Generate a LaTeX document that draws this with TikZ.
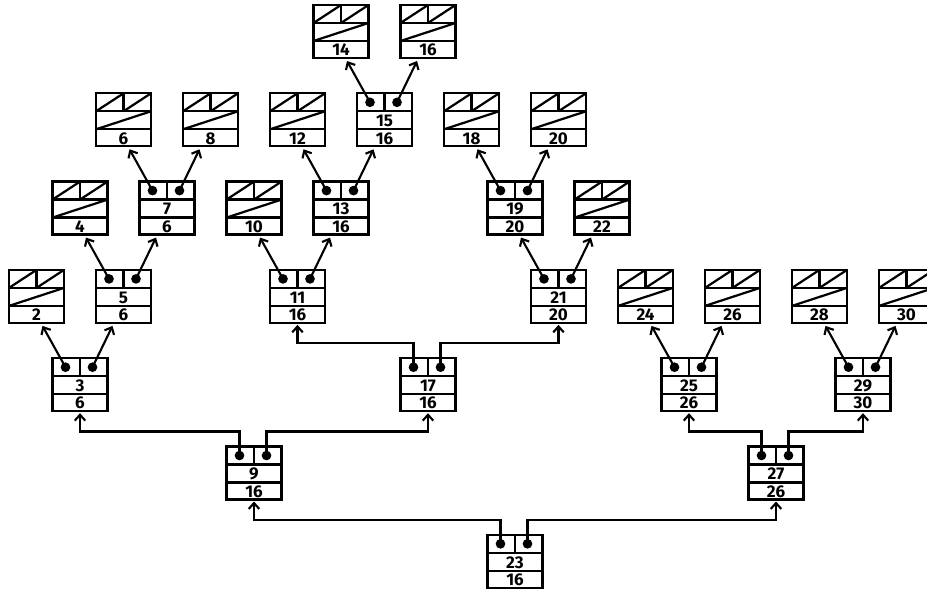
\documentclass[tikz,border=0pt]{standalone}
\usepackage{fontspec}
\newfontfamily\recfont{Fira Sans}
\usetikzlibrary{arrows.meta,calc}
\tikzset{
  every picture/.style={line width=1.9pt, x=0.3mm, y=-0.3mm},
  rec/.style={draw, rectangle, minimum width=16.5mm, minimum height=15.9mm, inner sep=0pt, outer sep=0pt, anchor=north west},
  num/.style={font=\recfont\bfseries\fontsize{14.5}{14.5}\selectfont, inner sep=0pt},
  link/.style={-{Straight Barb[length=5pt,width=9pt]}, line width=1.8pt},
}
% one record: three rows, the top row cut in two
\newcommand\recbox[3]{%
  \node[rec] (#1) at ({9+43.5*#2},{5+88.3*#3}) {};
  \draw ($(#1.north west)+(0,18)$) -- ($(#1.north east)+(0,18)$)
        ($(#1.north west)+(0,36)$) -- ($(#1.north east)+(0,36)$)
        (#1.north) -- ($(#1.north)+(0,18)$);}
% inner record: two pointers, a key and a value
\newcommand\midrec[5]{%
  \recbox{#1}{#2}{#3}
  \coordinate (#1l) at ($(#1.north west)+(13,9)$);
  \coordinate (#1r) at ($(#1.north east)+(-15,9)$);
  \fill (#1l) circle[radius=1.45mm] (#1r) circle[radius=1.45mm];
  \node[num] (#1id) at ($(#1.north)+(0,27.5)$) {#4};
  \node[num] (#1val) at ($(#1.north)+(0,45)$) {#5};}
% leaf record: empty fields struck through
\newcommand\leafrec[4]{%
  \recbox{#1}{#2}{#3}
  \draw ($(#1.north west)+(0,18)$) -- (#1.north)
        ($(#1.north)+(0,18)$) -- (#1.north east)
        ($(#1.north west)+(0,36)$) -- ($(#1.north east)+(0,18)$);
  \node[num] (#1val) at ($(#1.north)+(0,45)$) {#4};}

\begin{document}
\begin{tikzpicture}
  \useasboundingbox (0,0) rectangle (927,589);
  % records, row by row from the top
  \leafrec{n14}{7}{0}{14}
  \leafrec{n16}{9}{0}{16}
  \leafrec{n6}{2}{1}{6}
  \leafrec{n8}{4}{1}{8}
  \leafrec{n12}{6}{1}{12}
  \midrec{n15}{8}{1}{15}{16}
  \leafrec{n18}{10}{1}{18}
  \leafrec{n20}{12}{1}{20}
  \leafrec{n4}{1}{2}{4}
  \midrec{n7}{3}{2}{7}{6}
  \leafrec{n10}{5}{2}{10}
  \midrec{n13}{7}{2}{13}{16}
  \midrec{n19}{11}{2}{19}{20}
  \leafrec{n22}{13}{2}{22}
  \leafrec{n2}{0}{3}{2}
  \midrec{n5}{2}{3}{5}{6}
  \midrec{n11}{6}{3}{11}{16}
  \midrec{n21}{12}{3}{21}{20}
  \leafrec{n24}{14}{3}{24}
  \leafrec{n26}{16}{3}{26}
  \leafrec{n28}{18}{3}{28}
  \leafrec{n30}{20}{3}{30}
  \midrec{n3}{1}{4}{3}{6}
  \midrec{n17}{9}{4}{17}{16}
  \midrec{n25}{15}{4}{25}{26}
  \midrec{n29}{19}{4}{29}{30}
  \midrec{n9}{5}{5}{9}{16}
  \midrec{n27}{17}{5}{27}{26}
  \midrec{n23}{11}{6}{23}{16}
  % short pointers
  \draw[link] (n3l) -- ($(n2.south)+(6,3)$);
  \draw[link] (n3r) -- ($(n5.south)+(-11,3)$);
  \draw[link] (n5l) -- ($(n4.south)+(6,3)$);
  \draw[link] (n5r) -- ($(n7.south)+(-11,3)$);
  \draw[link] (n7l) -- ($(n6.south)+(6,3)$);
  \draw[link] (n7r) -- ($(n8.south)+(-11,3)$);
  \draw[link] (n11l) -- ($(n10.south)+(6,3)$);
  \draw[link] (n11r) -- ($(n13.south)+(-11,3)$);
  \draw[link] (n13l) -- ($(n12.south)+(6,3)$);
  \draw[link] (n13r) -- ($(n15.south)+(-11,3)$);
  \draw[link] (n15l) -- ($(n14.south)+(6,3)$);
  \draw[link] (n15r) -- ($(n16.south)+(-11,3)$);
  \draw[link] (n21l) -- ($(n19.south)+(6,3)$);
  \draw[link] (n21r) -- ($(n22.south)+(-11,3)$);
  \draw[link] (n19l) -- ($(n18.south)+(6,3)$);
  \draw[link] (n19r) -- ($(n20.south)+(-11,3)$);
  \draw[link] (n25l) -- ($(n24.south)+(6,3)$);
  \draw[link] (n25r) -- ($(n26.south)+(-11,3)$);
  \draw[link] (n29l) -- ($(n28.south)+(6,3)$);
  \draw[link] (n29r) -- ($(n30.south)+(-11,3)$);
  % long pointers, bent
  \draw[link] (n9l) -- ++(0,-24) -| ($(n3.south)+(0,2)$);
  \draw[link] (n9r) -- ++(0,-24) -| ($(n17.south)+(0,2)$);
  \draw[link] (n17l) -- ++(0,-24) -| ($(n11.south)+(0,2)$);
  \draw[link] (n17r) -- ++(0,-24) -| ($(n21.south)+(0,2)$);
  \draw[link] (n23l) -- ++(0,-24) -| ($(n9.south)+(0,2)$);
  \draw[link] (n23r) -- ++(0,-24) -| ($(n27.south)+(0,2)$);
  \draw[link] (n27l) -- ++(0,-24) -| ($(n25.south)+(0,2)$);
  \draw[link] (n27r) -- ++(0,-24) -| ($(n29.south)+(0,2)$);
\end{tikzpicture}
\end{document}
